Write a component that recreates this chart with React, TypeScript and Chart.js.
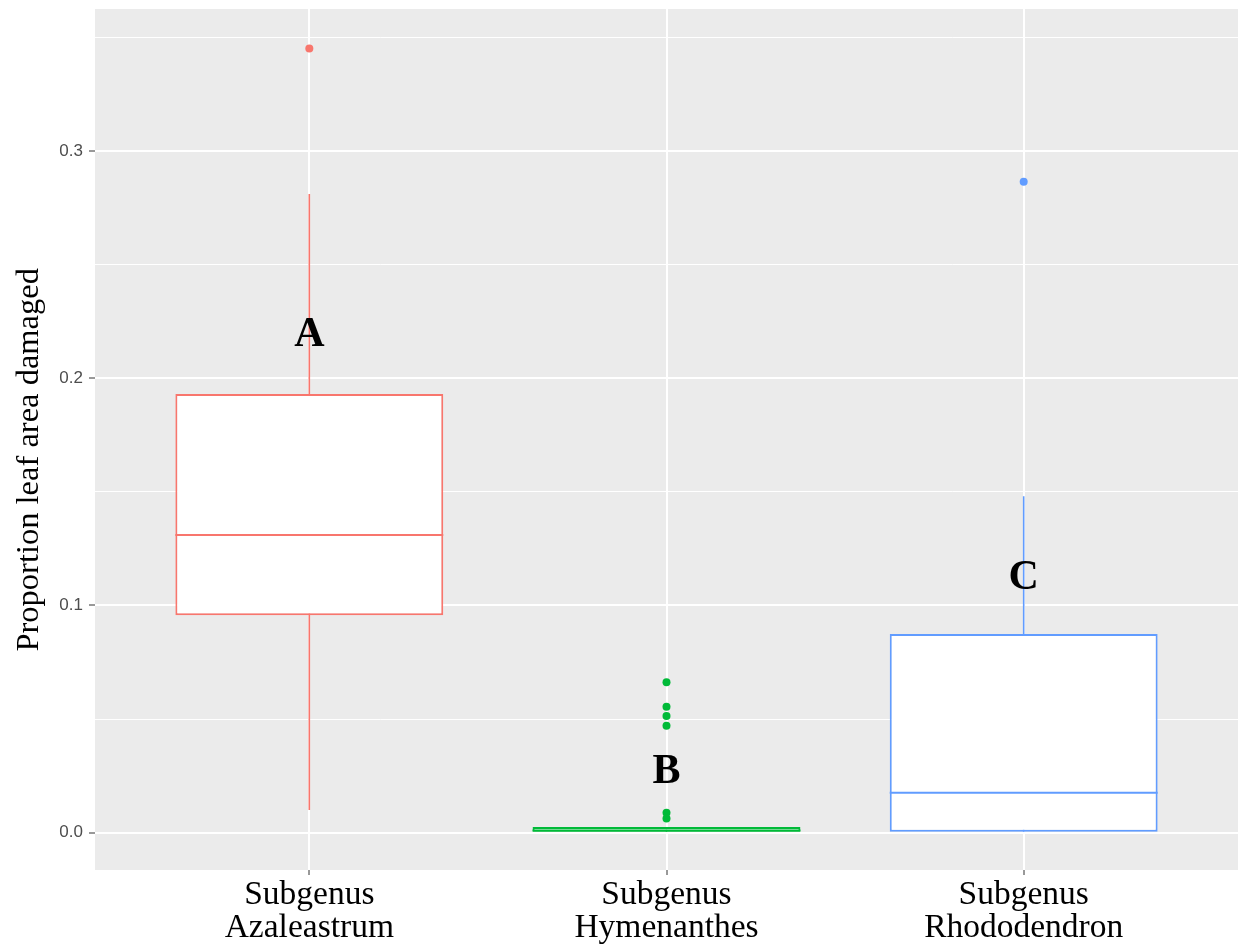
import { useEffect, useRef } from 'react';
import { Chart, registerables } from 'chart.js';

Chart.register(...registerables);

// ---- data ----
const categories: string[][] = [
  ['Subgenus', 'Azaleastrum'],
  ['Subgenus', 'Hymenanthes'],
  ['Subgenus', 'Rhododendron'],
];
const groupColors = ['#F8766D', '#00BA38', '#619CFF'];
const q1 = [0.0957, 0, 0];
const medians = [0.131, 0.001, 0.0176];
const q3 = [0.193, 0.0025, 0.0874];
const whiskerLow = [0.01, 0, 0];
const whiskerHigh = [0.281, 0.0025, 0.148];
const outlierGroup = [1, 2, 2, 2, 2, 2, 2, 3];
const outlierValues = [0.345, 0.0662, 0.0554, 0.0513, 0.0471, 0.0088, 0.0063, 0.2864];
const letterLabels = ['A', 'B', 'C'];
const letterValues = [0.219, 0.0268, 0.112];
const yAxisTitle = 'Proportion leaf area damaged';
const yMin = -0.0164;
const yMax = 0.3624;

const serif = "'Liberation Serif', 'Times New Roman', serif";
const sans = "'Liberation Sans', Arial, sans-serif";

const isMajor = (v: number) => Math.abs(v * 10 - Math.round(v * 10)) < 1e-6;

const boxPlugin = {
  id: 'boxExtras',
  beforeDraw(chart: any) {
    const { ctx, chartArea } = chart;
    ctx.save();
    ctx.fillStyle = '#EBEBEB';
    ctx.fillRect(chartArea.left, chartArea.top, chartArea.width, chartArea.height);
    ctx.restore();
  },
  afterDatasetDraw(chart: any, args: any) {
    if (args.index !== 1) return;
    const { ctx } = chart;
    const yScale = chart.scales.y;
    ctx.save();
    args.meta.data.forEach((bar: any, i: number) => {
      const { x, width } = bar.getProps(['x', 'width'], true);
      const py = yScale.getPixelForValue(medians[i]);
      ctx.strokeStyle = groupColors[i];
      ctx.lineWidth = 2;
      ctx.beginPath();
      ctx.moveTo(x - width / 2, py);
      ctx.lineTo(x + width / 2, py);
      ctx.stroke();
    });
    ctx.restore();
  },
  afterDatasetsDraw(chart: any) {
    const { ctx } = chart;
    const xScale = chart.scales.x;
    const yScale = chart.scales.y;
    ctx.save();
    ctx.fillStyle = '#000000';
    ctx.font = `bold 42px ${serif}`;
    ctx.textAlign = 'center';
    ctx.textBaseline = 'middle';
    letterLabels.forEach((t, i) => {
      ctx.fillText(t, xScale.getPixelForValue(i + 1), yScale.getPixelForValue(letterValues[i]));
    });
    ctx.restore();
  },
};

export default function App() {
  const canvasRef = useRef<HTMLCanvasElement>(null);

  useEffect(() => {
    document.body.style.margin = '0';
    const canvas = canvasRef.current;
    if (!canvas) return;
    const chart = new Chart(canvas, {
      type: 'bar',
      data: {
        datasets: [
          {
            type: 'bar',
            label: 'whiskers',
            data: categories.map((_, i) => ({ x: i + 1, y: [whiskerLow[i], whiskerHigh[i]] })) as any,
            backgroundColor: groupColors,
            borderWidth: 0,
            grouped: false,
            maxBarThickness: 1.6,
            order: 3,
          } as any,
          {
            type: 'bar',
            label: 'boxes',
            data: categories.map((_, i) => ({ x: i + 1, y: [q1[i], q3[i]] })) as any,
            backgroundColor: '#FFFFFF',
            borderColor: groupColors,
            borderWidth: 2,
            borderSkipped: false,
            grouped: false,
            barPercentage: 0.75,
            categoryPercentage: 1,
            order: 2,
          } as any,
          {
            type: 'scatter',
            label: 'outliers',
            data: outlierValues.map((v, i) => ({ x: outlierGroup[i], y: v })),
            pointRadius: 4,
            pointBorderWidth: 0,
            pointBackgroundColor: outlierGroup.map((g) => groupColors[g - 1]),
            order: 1,
          } as any,
        ],
      },
      options: {
        responsive: false,
        animation: false,
        events: [],
        layout: { autoPadding: false, padding: { top: 9, right: 0, left: 0, bottom: 0 } },
        plugins: { legend: { display: false }, tooltip: { enabled: false } },
        scales: {
          x: {
            type: 'linear',
            min: 0.4,
            max: 3.6,
            offset: false,
            border: { display: false },
            grid: {
              offset: false,
              color: '#FFFFFF',
              lineWidth: 2,
              tickColor: '#333333',
              tickWidth: 1,
              tickLength: 5,
            },
            ticks: {
              stepSize: 1,
              includeBounds: false,
              autoSkip: false,
              maxRotation: 0,
              padding: 4,
              color: '#000000',
              font: { family: serif, size: 33.5, lineHeight: 0.97 },
              callback: (v: any) => categories[Math.round(Number(v)) - 1] ?? '',
            },
            afterFit: (s: any) => {
              s.height = 79;
              s.paddingLeft = 0;
              s.paddingRight = 0;
            },
          },
          y: {
            type: 'linear',
            min: yMin,
            max: yMax,
            border: { display: false },
            grid: {
              color: '#FFFFFF',
              lineWidth: (c: any) => (isMajor(c.tick.value) ? 2 : 1),
              tickColor: (c: any) => (isMajor(c.tick.value) ? '#333333' : 'rgba(0,0,0,0)'),
              tickWidth: 1,
              tickLength: 6,
            },
            ticks: {
              stepSize: 0.05,
              includeBounds: false,
              autoSkip: false,
              padding: 6,
              color: '#4D4D4D',
              font: { family: sans, size: 17 },
              callback: (v: any) => (isMajor(Number(v)) ? Number(v).toFixed(1) : ''),
            },
            title: {
              display: true,
              text: yAxisTitle + '     ',
              color: '#000000',
              font: { family: serif, size: 32.5 },
              padding: { top: 10, bottom: 0 },
            },
            afterFit: (s: any) => {
              s.width = 95;
              s.paddingTop = 0;
              s.paddingBottom = 0;
            },
          },
        },
      },
      plugins: [boxPlugin],
    } as any);
    return () => chart.destroy();
  }, []);

  return (
    <div style={{ width: 1238, height: 949 }}>
      <canvas ref={canvasRef} width={1238} height={949} style={{ display: 'block' }} />
    </div>
  );
}
